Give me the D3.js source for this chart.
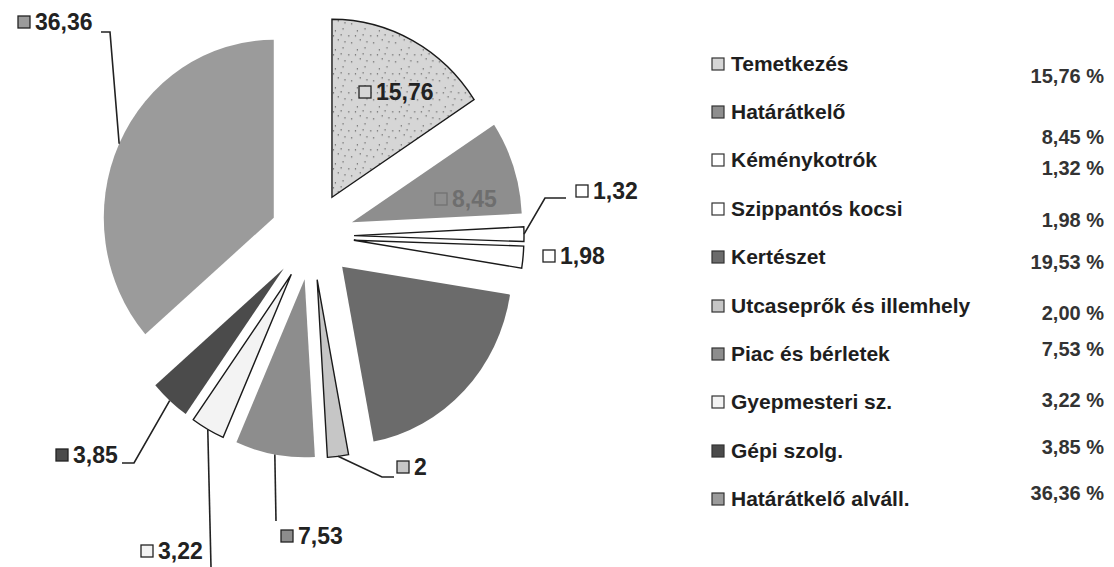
<!DOCTYPE html>
<html>
<head>
<meta charset="utf-8">
<script src="https://cdn.jsdelivr.net/npm/d3@7"></script>
<style>
  body { margin: 0; background: #fff; }
  svg { display: block; font-family: "Liberation Sans", Arial, sans-serif; }
</style>
</head>
<body>
<div id="chart"></div>
<script>
// adatok
var names = ["Temetkezés", "Határátkelő", "Kéménykotrók", "Szippantós kocsi", "Kertészet",
  "Utcaseprők és illemhely", "Piac és bérletek", "Gyepmesteri sz.", "Gépi szolg.", "Határátkelő alváll."];
var values = [15.76, 8.45, 1.32, 1.98, 19.53, 2.00, 7.53, 3.22, 3.85, 36.36];
var fills = ["#d6d6d6", "#8e8e8e", "#ffffff", "#ffffff", "#6b6b6b", "#c6c6c6", "#8d8d8d", "#f3f3f3", "#4b4b4b", "#9b9b9b"];
var outlined = [true, false, true, true, false, true, false, true, false, false];

// címkék elhelyezése (x, y = a szöveg bal széle / közepe; elbow = töréspontok)
var labelPos = [
  { x: 376, y: 92 },
  { x: 452, y: 199, faded: true },
  { x: 593, y: 191, elbow: [[545, 198], [566, 198]] },
  { x: 560, y: 256 },
  { hidden: true },
  { x: 414, y: 467, elbow: [[382, 477], [394, 477]] },
  { x: 298, y: 536, elbow: [[276, 521]] },
  { x: 158, y: 551, elbow: [[211, 567]] },
  { x: 73, y: 455, elbow: [[134, 463], [122, 463]] },
  { x: 35, y: 22, elbow: [[110, 32], [101, 32]] }
];
var legendY = [63, 111, 159, 208, 256, 305, 353, 401, 450, 498];
var pctY = [76, 137, 168, 220, 262, 313, 349, 400, 447, 493];

var width = 1114, height = 567;
var cx = 312, cy = 236, radius = 178, explode = 44, squeeze = 0.955;

var svg = d3.select("#chart").append("svg")
  .attr("width", width)
  .attr("height", height);

var defs = svg.append("defs");
var pat = defs.append("pattern")
  .attr("id", "speckle")
  .attr("patternUnits", "userSpaceOnUse")
  .attr("width", 23).attr("height", 19);
pat.append("rect").attr("width", 23).attr("height", 19).attr("fill", "#d6d6d6");
[[3, 4], [11, 2], [17, 9], [6, 13], [20, 16], [13, 15], [1, 9], [9, 8]].forEach(function(p) {
  pat.append("rect").attr("x", p[0]).attr("y", p[1]).attr("width", 1.2).attr("height", 1.2).attr("fill", "#555");
});

var pie = d3.pie().sort(null).value(function(d) { return d; });
var arcs = pie(values);
var arc = d3.arc().innerRadius(0).outerRadius(radius);

function mid(a) { return (a.startAngle + a.endAngle) / 2; }
function shift(a) { return [Math.sin(mid(a)) * explode, -Math.cos(mid(a)) * explode]; }
function outerPoint(a) {
  var s = shift(a), m = mid(a);
  return [cx + squeeze * (s[0] + Math.sin(m) * radius), cy + s[1] - Math.cos(m) * radius];
}

var pieG = svg.append("g")
  .attr("transform", "translate(" + cx + "," + cy + ") scale(" + squeeze + ",1)");

pieG.selectAll("path.slice")
  .data(arcs)
  .enter().append("path")
  .attr("class", "slice")
  .attr("d", arc)
  .attr("transform", function(d) { return "translate(" + shift(d).join(",") + ")"; })
  .attr("fill", function(d, i) { return i === 0 ? "url(#speckle)" : fills[i]; })
  .attr("stroke", function(d, i) { return outlined[i] ? "#1a1a1a" : "none"; })
  .attr("stroke-width", 1.4)
  .attr("vector-effect", "non-scaling-stroke");

// vezető vonalak
var leaders = svg.append("g");
arcs.forEach(function(a, i) {
  var lp = labelPos[i];
  if (!lp.elbow) return;
  var pts = [outerPoint(a)].concat(lp.elbow);
  leaders.append("path")
    .attr("d", d3.line()(pts))
    .attr("fill", "none")
    .attr("stroke", "#222")
    .attr("stroke-width", 1.6);
});

// címkék
var labels = svg.append("g");
arcs.forEach(function(a, i) {
  var lp = labelPos[i];
  if (lp.hidden) return;
  var col = lp.faded ? "#6e6e6e" : "#222";
  labels.append("rect")
    .attr("x", lp.x - 17).attr("y", lp.y - 6)
    .attr("width", 12).attr("height", 12)
    .attr("fill", lp.faded ? "#8e8e8e" : fills[i])
    .attr("stroke", lp.faded ? "#727272" : "#222")
    .attr("stroke-width", 1.3);
  labels.append("text")
    .attr("x", lp.x).attr("y", lp.y)
    .attr("dy", "0.36em")
    .attr("font-size", 23)
    .attr("font-weight", "bold")
    .attr("fill", col)
    .text(String(values[i]).replace(".", ","));
});

// jelmagyarázat
var legend = svg.append("g");
var rows = legend.selectAll("g.row")
  .data(names)
  .enter().append("g")
  .attr("class", "row");

rows.append("rect")
  .attr("x", 712)
  .attr("y", function(d, i) { return legendY[i] - 5; })
  .attr("width", 12).attr("height", 12)
  .attr("fill", function(d, i) { return fills[i]; })
  .attr("stroke", "#333")
  .attr("stroke-width", 1.2);

rows.append("text")
  .attr("x", 731)
  .attr("y", function(d, i) { return legendY[i]; })
  .attr("dy", "0.36em")
  .attr("font-size", 21)
  .attr("font-weight", "bold")
  .attr("fill", "#1e1e1e")
  .text(function(d) { return d; });

rows.append("text")
  .attr("x", 1104)
  .attr("y", function(d, i) { return pctY[i]; })
  .attr("dy", "0.36em")
  .attr("text-anchor", "end")
  .attr("font-size", 20)
  .attr("font-weight", "bold")
  .attr("fill", "#333")
  .text(function(d, i) { return d3.format(".2f")(values[i]).replace(".", ",") + " %"; });
</script>
</body>
</html>
